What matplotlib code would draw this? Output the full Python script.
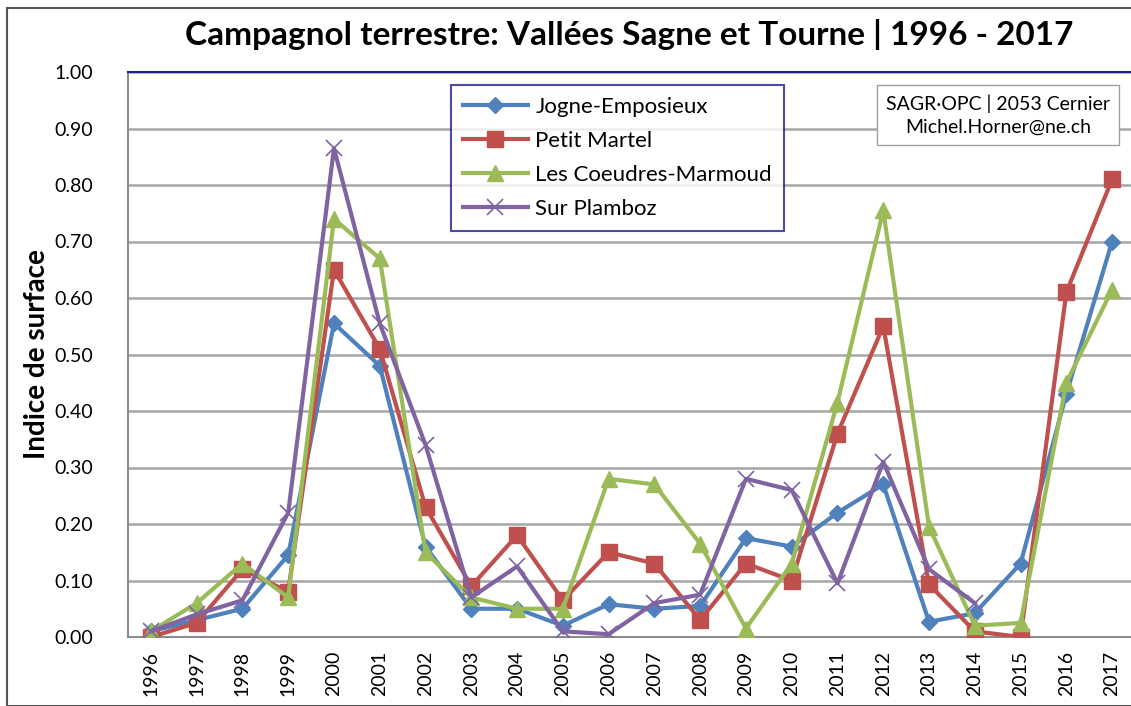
import numpy as np
import matplotlib
matplotlib.use("Agg")
import matplotlib.pyplot as plt
from matplotlib.patches import Rectangle

plt.rcParams["font.family"] = ["Lato", "DejaVu Sans"]

years = [str(y) for y in range(1996, 2018)]

jogne = [0.01, 0.03, 0.05, 0.145, 0.555, 0.48, 0.16, 0.05, 0.05, 0.02, 0.058,
         0.05, 0.055, 0.175, 0.16, 0.22, 0.27, 0.027, 0.042, 0.13, 0.43, 0.70]
petit_martel = [0.00, 0.025, 0.12, 0.08, 0.65, 0.51, 0.23, 0.09, 0.18, 0.065, 0.15,
                0.13, 0.03, 0.13, 0.10, 0.36, 0.55, 0.093, 0.01, 0.00, 0.61, 0.81]
coeudres = [0.01, 0.06, 0.13, 0.07, 0.74, 0.67, 0.15, 0.07, 0.05, 0.05, 0.28,
            0.27, 0.165, 0.015, 0.13, 0.415, 0.755, 0.195, 0.02, 0.025, 0.45, 0.615]
plamboz = [0.01, 0.04, 0.065, 0.22, 0.865, 0.555, 0.34, 0.07, 0.125, 0.01, 0.005,
           0.06, 0.075, 0.28, 0.26, 0.095, 0.31, 0.12, 0.06, None, None, None]

yticks = [0.0, 0.1, 0.2, 0.3, 0.4, 0.5, 0.6, 0.7, 0.8, 0.9, 1.0]

fig = plt.figure(figsize=(11.31, 7.06), dpi=100)
ax = fig.add_axes([128 / 1131, 1 - 637 / 706, 1007 / 1131, 565 / 706])

x = np.arange(len(years))
pl = np.array([np.nan if v is None else v for v in plamboz], dtype=float)

ax.plot(x, jogne, color="#4F81BD", lw=3, marker="D", ms=8, label="Jogne-Emposieux", zorder=3)
ax.plot(x, petit_martel, color="#C0504D", lw=3, marker="s", ms=11, label="Petit Martel", zorder=3)
ax.plot(x, coeudres, color="#9BBB59", lw=3, marker="^", ms=12, label="Les Coeudres-Marmoud", zorder=3)
ax.plot(x, pl, color="#8064A2", lw=3, marker="x", ms=11, mew=1.2, label="Sur Plamboz", zorder=3)

ax.set_xlim(-0.5, len(years) - 0.5)
ax.set_ylim(0, 1.0)
ax.set_yticks(yticks)
ax.set_yticklabels([f"{v:.2f}" for v in yticks], fontsize=14)
ax.set_xticks(x)
ax.set_xticklabels(years, rotation=90, fontsize=14)
ax.tick_params(length=0)
ax.tick_params(axis="y", pad=25)
ax.tick_params(axis="x", pad=10)
ax.grid(axis="y", color="#a6a6a6", lw=1.8, zorder=0)

for s in ["left", "bottom"]:
    ax.spines[s].set_color("#8c8c8c")
    ax.spines[s].set_linewidth(1.5)
ax.spines["top"].set_color("#1f1f8f")
ax.spines["top"].set_linewidth(1.5)
ax.spines["right"].set_visible(False)

ax.set_ylabel("Indice de surface", fontsize=20, fontweight="bold", labelpad=3)

fig.text(0.556, 1 - 34 / 706, "Campagnol terrestre: Vallées Sagne et Tourne | 1996 - 2017",
         ha="center", va="center", fontsize=24, fontweight="bold")

leg = ax.legend(loc="upper left", bbox_to_anchor=(451 / 1131, 1 - 85 / 706),
                bbox_transform=fig.transFigure, fontsize=16, frameon=True,
                fancybox=False, handlelength=2.9, borderpad=0.55, labelspacing=0.62,
                handletextpad=0.35, borderaxespad=0)
leg.get_frame().set_edgecolor("#1f1f8f")
leg.get_frame().set_linewidth(1.5)

fig.text(998 / 1131, 1 - 115 / 706, "SAGR·OPC | 2053 Cernier\nMichel.Horner@ne.ch",
         ha="center", va="center", fontsize=14, linespacing=1.45,
         bbox=dict(boxstyle="square,pad=0.45", fc="white", ec="#a0a0a0", lw=1))

fig.patches.append(Rectangle((7 / 1131, 0), 1.0, 1 - 8 / 706, transform=fig.transFigure,
                             fill=False, ec="#555555", lw=1.5))

fig.savefig("out.png", dpi=100)
